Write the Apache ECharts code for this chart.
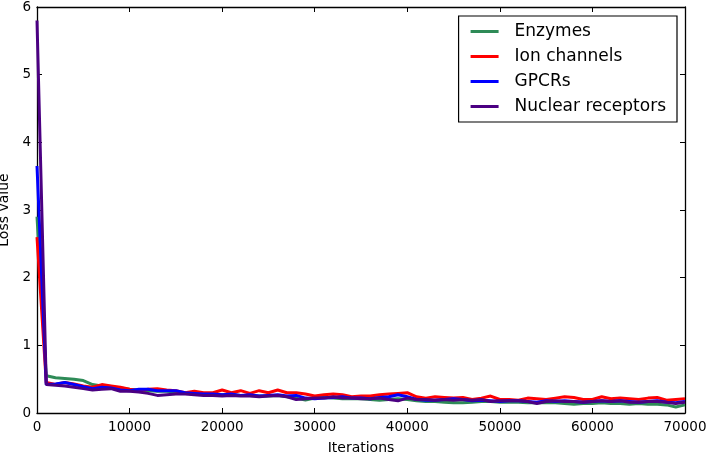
<!DOCTYPE html>
<html>
<head>
<meta charset="utf-8">
<script src="https://cdn.jsdelivr.net/npm/echarts@6/dist/echarts.min.js"></script>
<style>html,body{margin:0;padding:0;background:#fff;}#c{width:708px;height:453px;}</style>
</head>
<body>
<div id="c"></div>
<script>
var iterations = [0,1000,2000,3000,4000,5000,6000,7000,8000,9000,10000,11000,12000,13000,14000,15000,16000,17000,18000,19000,20000,21000,22000,23000,24000,25000,26000,27000,28000,29000,30000,31000,32000,33000,34000,35000,36000,37000,38000,39000,40000,41000,42000,43000,44000,45000,46000,47000,48000,49000,50000,51000,52000,53000,54000,55000,56000,57000,58000,59000,60000,61000,62000,63000,64000,65000,66000,67000,68000,69000,70000];
var seriesNames = ["Enzymes","Ion channels","GPCRs","Nuclear receptors"];
var enzymes = [2.9,0.55,0.52,0.51,0.50,0.48,0.42,0.40,0.39,0.37,0.35,0.34,0.33,0.32,0.32,0.31,0.30,0.29,0.28,0.28,0.27,0.27,0.26,0.26,0.25,0.25,0.26,0.24,0.22,0.19,0.22,0.23,0.22,0.21,0.21,0.21,0.20,0.19,0.20,0.21,0.20,0.18,0.17,0.17,0.16,0.15,0.15,0.16,0.17,0.17,0.16,0.16,0.16,0.15,0.15,0.15,0.15,0.14,0.13,0.14,0.14,0.15,0.14,0.14,0.13,0.14,0.13,0.13,0.12,0.09,0.12];
var ionChannels = [2.6,0.45,0.42,0.45,0.43,0.40,0.38,0.42,0.40,0.38,0.35,0.33,0.35,0.36,0.34,0.33,0.30,0.32,0.30,0.30,0.34,0.30,0.33,0.29,0.33,0.30,0.34,0.30,0.30,0.28,0.25,0.27,0.28,0.27,0.24,0.25,0.25,0.27,0.28,0.29,0.30,0.24,0.22,0.24,0.23,0.22,0.23,0.20,0.22,0.25,0.20,0.20,0.19,0.22,0.21,0.20,0.22,0.24,0.23,0.20,0.20,0.24,0.21,0.22,0.21,0.20,0.22,0.23,0.19,0.20,0.21];
var gpcrs = [3.65,0.42,0.43,0.45,0.42,0.39,0.36,0.38,0.37,0.34,0.33,0.35,0.35,0.33,0.33,0.33,0.30,0.29,0.28,0.28,0.27,0.28,0.26,0.27,0.25,0.26,0.27,0.25,0.26,0.22,0.21,0.22,0.23,0.24,0.22,0.22,0.21,0.23,0.24,0.27,0.24,0.20,0.19,0.19,0.20,0.21,0.20,0.18,0.19,0.18,0.17,0.18,0.18,0.17,0.16,0.18,0.17,0.18,0.17,0.16,0.17,0.18,0.17,0.18,0.17,0.16,0.17,0.18,0.16,0.15,0.17];
var nuclearReceptors = [5.8,0.42,0.41,0.40,0.38,0.36,0.34,0.35,0.36,0.32,0.32,0.31,0.29,0.26,0.27,0.28,0.28,0.27,0.26,0.26,0.25,0.26,0.25,0.25,0.24,0.25,0.26,0.24,0.20,0.21,0.22,0.22,0.24,0.22,0.22,0.21,0.21,0.22,0.20,0.18,0.22,0.20,0.20,0.19,0.20,0.19,0.20,0.19,0.20,0.17,0.18,0.18,0.18,0.17,0.14,0.17,0.18,0.17,0.17,0.16,0.17,0.18,0.17,0.18,0.16,0.16,0.17,0.17,0.16,0.14,0.16];
var colors = ["#2e8b57","#ff0000","#0000ff","#4b0082"];

function pairs(vals){ return iterations.map(function(x,i){ return [x, vals[i]]; }); }
var allVals = [enzymes, ionChannels, gpcrs, nuclearReceptors];

var font = "DejaVu Sans";
var chart = echarts.init(document.getElementById('c'), null, {renderer:'canvas'});
var axisLine = {show:true, onZero:false, lineStyle:{color:'#000', width:1.3}};
var tick = {show:true, inside:true, length:5, lineStyle:{color:'#000', width:1}};
chart.setOption({
  animation:false,
  backgroundColor:'#fff',
  color: colors,
  grid:{left:37, right:23, top:7, bottom:40, containLabel:false, outerBoundsMode:'none'},
  legend:{
    data: seriesNames,
    orient:'vertical', right:31, top:16,
    backgroundColor:'#fff',
    borderColor:'#000', borderWidth:1.2, borderRadius:0,
    padding:[7,11,7,12],
    itemWidth:28, itemHeight:14, itemGap:8,
    icon:'path://M0,0L28,0L28,3L0,3Z',
    textStyle:{fontFamily:font, fontSize:17, color:'#000', lineHeight:17, padding:[0,0,0,11]}
  },
  xAxis:[
    {type:'value', min:0, max:70000, interval:10000, position:'bottom',
     name:'Iterations', nameLocation:'middle', nameGap:28,
     nameTextStyle:{fontFamily:font, fontSize:14, color:'#000'},
     axisLine:axisLine, axisTick:tick,
     axisLabel:{fontFamily:font, fontSize:13.5, color:'#000', margin:7, formatter:function(v){return String(v);}},
     splitLine:{show:false}},
    {type:'value', min:0, max:70000, interval:10000, position:'top',
     axisLine:axisLine, axisTick:tick, axisLabel:{show:false}, splitLine:{show:false}}
  ],
  yAxis:[
    {type:'value', min:0, max:6, interval:1, position:'left',
     name:'Loss value', nameLocation:'middle', nameGap:22, nameRotate:90,
     nameTextStyle:{fontFamily:font, fontSize:14, color:'#000'},
     axisLine:axisLine, axisTick:tick,
     axisLabel:{fontFamily:font, fontSize:13.5, color:'#000', margin:6},
     splitLine:{show:false}},
    {type:'value', min:0, max:6, interval:1, position:'right',
     axisLine:axisLine, axisTick:tick, axisLabel:{show:false}, splitLine:{show:false}}
  ],
  series: seriesNames.map(function(n,i){
    return {name:n, type:'line', data:pairs(allVals[i]), showSymbol:false, symbol:'none',
            lineStyle:{width:3, color:colors[i]}, itemStyle:{color:colors[i]}, z:2+i};
  })
});
</script>
</body>
</html>
